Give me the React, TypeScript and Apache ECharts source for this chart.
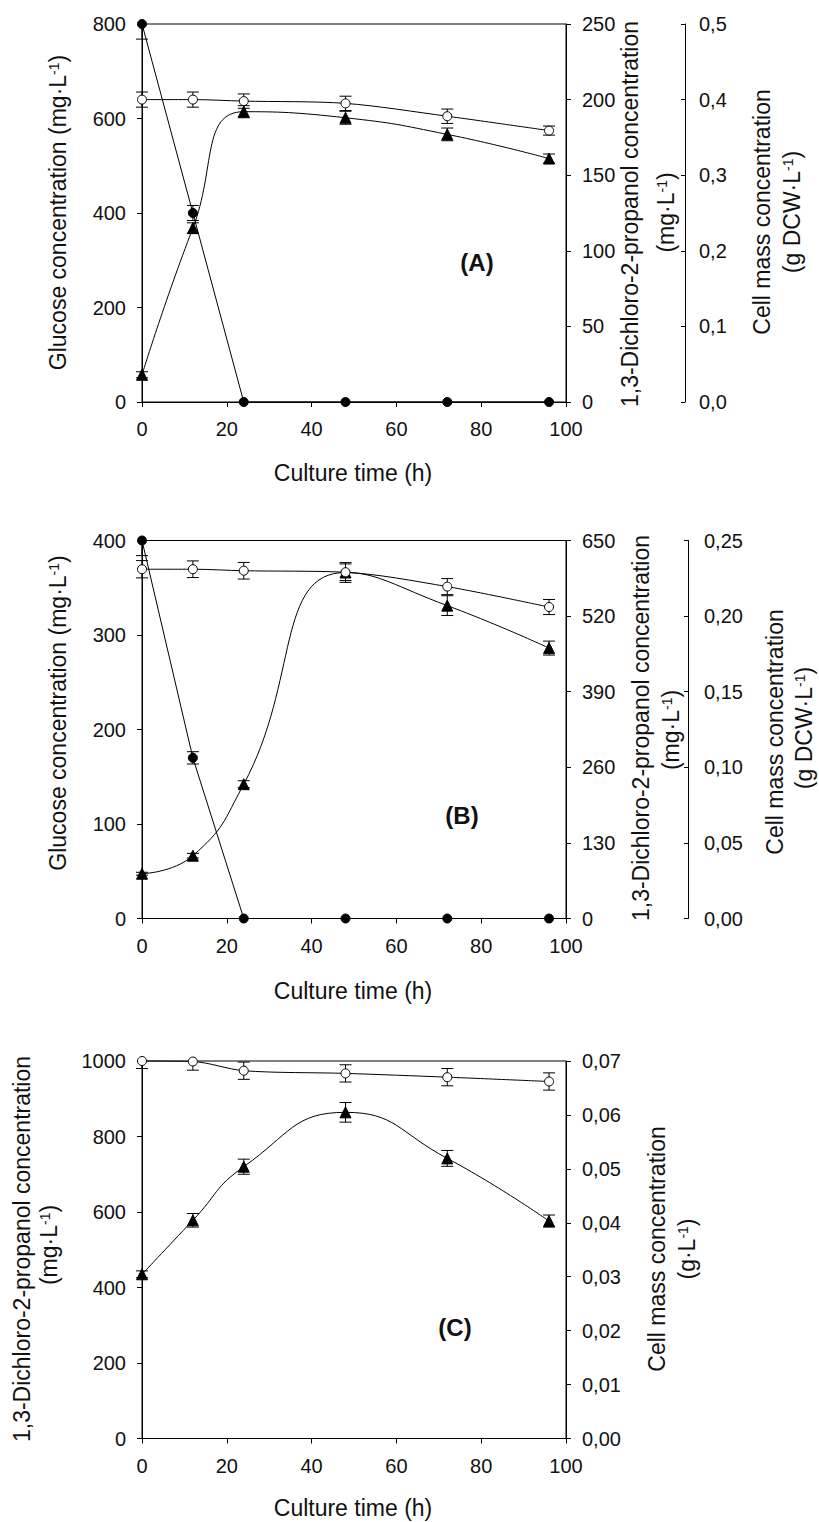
import React, { useEffect, useRef } from "react";
import * as echarts from "echarts";

const FONT = '"Liberation Sans", Arial, Helvetica, sans-serif';
const INK = "#111";

const hours = [0, 12, 24, 48, 72, 96];
const timeTicks = [0, 20, 40, 60, 80, 100];

// Panel A
const glucoseA = [800, 400, 0, 0, 0, 0];
const glucoseErrA = [32, 16, 0, 0, 0, 0];
const dcpA = [18, 115, 192, 188, 177, 161];
const dcpErrA = [2, 3.5, 4, 4.3, 4.2, 3];
const cellA = [0.4, 0.4, 0.398, 0.395, 0.378, 0.359];
const cellErrA = [0.01, 0.01, 0.0095, 0.0095, 0.0095, 0.006];
const glucoseTicksA = [0, 200, 400, 600, 800];
const dcpTicksA = [0, 50, 100, 150, 200, 250];
const cellTicksA = [0, 0.1, 0.2, 0.3, 0.4, 0.5];

// Panel B
const glucoseB = [400, 170, 0, 0, 0, 0];
const glucoseErrB = [16, 6.5, 0, 0, 0, 0];
const dcpB = [77, 108, 231, 595, 538, 465];
const dcpErrB = [2.5, 4, 6, 17, 17, 12];
const cellB = [0.231, 0.231, 0.23, 0.229, 0.2195, 0.206];
const cellErrB = [0.0057, 0.0055, 0.0055, 0.0055, 0.0053, 0.005];
const glucoseTicksB = [0, 100, 200, 300, 400];
const dcpTicksB = [0, 130, 260, 390, 520, 650];
const cellTicksB = [0, 0.05, 0.1, 0.15, 0.2, 0.25];

// Panel C
const dcpC = [435, 578, 720, 864, 742, 576];
const dcpErrC = [9, 18, 20, 26, 21, 16];
const cellC = [0.07, 0.0699, 0.0682, 0.0677, 0.067, 0.0662];
const cellErrC = [0.0014, 0.0016, 0.0016, 0.0016, 0.0016, 0.0016];
const dcpTicksC = [0, 200, 400, 600, 800, 1000];
const cellTicksC = [0, 0.01, 0.02, 0.03, 0.04, 0.05, 0.06, 0.07];

function xAxis(gridIndex: number) {
  return {
    type: "value",
    gridIndex,
    min: timeTicks[0],
    max: timeTicks[timeTicks.length - 1],
    interval: timeTicks[1] - timeTicks[0],
    axisLine: { show: true, onZero: false, lineStyle: { color: "#000", width: 1 } },
    axisTick: { show: true, length: 5, lineStyle: { color: "#000", width: 1 } },
    axisLabel: { margin: 17, fontSize: 20, color: INK, fontFamily: FONT },
    splitLine: { show: false },
  };
}

function yAxis(gridIndex: number, position: string, ticks: number[], decimals: number, opts: any) {
  return {
    type: "value",
    gridIndex,
    position,
    min: ticks[0],
    max: ticks[ticks.length - 1],
    interval: ticks[1] - ticks[0],
    offset: opts.offset || 0,
    axisLine: { show: true, onZero: false, lineStyle: { color: "#000", width: 1 } },
    axisTick: { show: true, inside: !!opts.inside, length: opts.tickLen || 5, lineStyle: { color: "#000", width: 1 } },
    axisLabel: {
      margin: opts.margin,
      fontSize: 20,
      color: INK,
      fontFamily: FONT,
      formatter: (v: number) => (decimals ? v.toFixed(decimals).replace(".", ",") : String(Math.round(v))),
    },
    splitLine: { show: false },
  };
}

function lineSeries(xIdx: number, yIdx: number, vals: number[], symbol: string, filled: boolean, smooth: any, size: number) {
  return {
    type: "line",
    xAxisIndex: xIdx,
    yAxisIndex: yIdx,
    data: hours.map((h, i) => [h, vals[i]]),
    symbol,
    symbolSize: size,
    showSymbol: true,
    smooth,
    clip: false,
    z: 3,
    lineStyle: { color: "#000", width: 1 },
    itemStyle: { color: filled ? "#000" : "#fff", borderColor: "#000", borderWidth: 1 },
    emphasis: { disabled: true },
    silent: true,
  };
}

function errSeries(xIdx: number, yIdx: number, vals: number[], errs: number[]) {
  return {
    type: "custom",
    xAxisIndex: xIdx,
    yAxisIndex: yIdx,
    z: 1,
    silent: true,
    data: hours.map((h, i) => [h, vals[i], errs[i]]),
    renderItem: (params: any, api: any) => {
      const x = api.value(0);
      const v = api.value(1);
      const e = api.value(2);
      if (!e) return { type: "group", children: [] };
      const top = api.coord([x, v + e]);
      const bot = api.coord([x, v - e]);
      const cs = params.coordSys;
      const yMin = cs.y;
      const yMax = cs.y + cs.height;
      const topClip = top[1] < yMin - 0.5;
      const botClip = bot[1] > yMax + 0.5;
      const yt = Math.max(top[1], yMin);
      const yb = Math.min(bot[1], yMax);
      const cx = top[0];
      const st = { stroke: "#000", lineWidth: 1 };
      const children: any[] = [{ type: "line", shape: { x1: cx, y1: yt, x2: cx, y2: yb }, style: st }];
      if (!topClip) children.push({ type: "line", shape: { x1: cx - 6, y1: yt, x2: cx + 6, y2: yt }, style: st });
      if (!botClip) children.push({ type: "line", shape: { x1: cx - 6, y1: yb, x2: cx + 6, y2: yb }, style: st });
      return { type: "group", children };
    },
  };
}

function vText(x: number, y: number, main: string, tail?: string) {
  const text = tail === undefined ? `{n|${main}}` : `{n|${main}}{s|-1}{n|${tail}}`;
  return {
    type: "text",
    x,
    y,
    rotation: Math.PI / 2,
    silent: true,
    style: {
      text,
      align: "center",
      verticalAlign: "middle",
      rich: {
        n: { fontSize: 23, fontFamily: FONT, fill: INK },
        s: { fontSize: 14, fontFamily: FONT, fill: INK, verticalAlign: "top" },
      },
    },
  };
}

function hText(x: number, y: number, text: string, bold?: boolean) {
  return {
    type: "text",
    x,
    y,
    silent: true,
    style: {
      text,
      align: "center",
      verticalAlign: "middle",
      fontSize: bold ? 24 : 23,
      fontWeight: bold ? "bold" : "normal",
      fontFamily: FONT,
      fill: INK,
    },
  };
}

export default function App() {
  const ref = useRef<HTMLDivElement>(null);
  useEffect(() => {
    if (!ref.current) return;
    const chart = echarts.init(ref.current, undefined, { renderer: "svg" });
    const gridBase = { left: 142, width: 424, show: true, borderColor: "#000", borderWidth: 1, backgroundColor: "transparent" };
    const option: any = {
      animation: false,
      backgroundColor: "#fff",
      grid: [
        { ...gridBase, top: 24, height: 378 },
        { ...gridBase, top: 540.5, height: 378 },
        { ...gridBase, top: 1061, height: 377.5 },
      ],
      xAxis: [xAxis(0), xAxis(1), xAxis(2)],
      yAxis: [
        yAxis(0, "left", glucoseTicksA, 0, { margin: 16 }),
        yAxis(0, "right", dcpTicksA, 0, { margin: 16 }),
        yAxis(0, "right", cellTicksA, 1, { offset: 119, inside: true, tickLen: 4, margin: 14 }),
        yAxis(1, "left", glucoseTicksB, 0, { margin: 16 }),
        yAxis(1, "right", dcpTicksB, 0, { margin: 16 }),
        yAxis(1, "right", cellTicksB, 2, { offset: 122, inside: true, tickLen: 4, margin: 16 }),
        yAxis(2, "left", dcpTicksC, 0, { margin: 16 }),
        yAxis(2, "right", cellTicksC, 2, { margin: 16 }),
      ],
      series: [
        // Panel A
        errSeries(0, 0, glucoseA, glucoseErrA),
        errSeries(0, 1, dcpA, dcpErrA),
        errSeries(0, 2, cellA, cellErrA),
        lineSeries(0, 0, glucoseA, "circle", true, false, 9),
        lineSeries(0, 1, dcpA, "triangle", true, 0.5, 11),
        lineSeries(0, 2, cellA, "circle", false, 0.3, 9),
        // Panel B
        errSeries(1, 3, glucoseB, glucoseErrB),
        errSeries(1, 4, dcpB, dcpErrB),
        errSeries(1, 5, cellB, cellErrB),
        lineSeries(1, 3, glucoseB, "circle", true, false, 9),
        lineSeries(1, 4, dcpB, "triangle", true, 0.5, 11),
        lineSeries(1, 5, cellB, "circle", false, 0.3, 9),
        // Panel C
        errSeries(2, 6, dcpC, dcpErrC),
        errSeries(2, 7, cellC, cellErrC),
        lineSeries(2, 6, dcpC, "triangle", true, 0.5, 11),
        lineSeries(2, 7, cellC, "circle", false, 0.3, 9),
      ],
      graphic: [
        // Panel A titles
        vText(58, 212.5, "Glucose concentration (mg·L", ")"),
        vText(630, 214, "1,3-Dichloro-2-propanol concentration"),
        vText(666, 212.5, "(mg·L", ")"),
        vText(762, 212, "Cell mass concentration"),
        vText(792, 212, "(g DCW·L", ")"),
        hText(353, 473, "Culture time (h)"),
        hText(477, 262, "(A)", true),
        // Panel B titles
        vText(58, 713, "Glucose concentration (mg·L", ")"),
        vText(641, 728, "1,3-Dichloro-2-propanol concentration"),
        vText(671, 730, "(mg·L", ")"),
        vText(775, 732, "Cell mass concentration"),
        vText(804, 728, "(g DCW·L", ")"),
        hText(353, 991, "Culture time (h)"),
        hText(462, 815, "(B)", true),
        // Panel C titles
        vText(22, 1249, "1,3-Dichloro-2-propanol concentration"),
        vText(49, 1245, "(mg·L", ")"),
        vText(657, 1249, "Cell mass concentration"),
        vText(687, 1249, "(g·L", ")"),
        hText(353, 1508, "Culture time (h)"),
        hText(455, 1327, "(C)", true),
      ],
    };
    chart.setOption(option);
    return () => chart.dispose();
  }, []);
  return (
    <div
      ref={ref}
      style={{ position: "absolute", left: 0, top: 0, width: 819, height: 1522, background: "#fff" }}
    />
  );
}
